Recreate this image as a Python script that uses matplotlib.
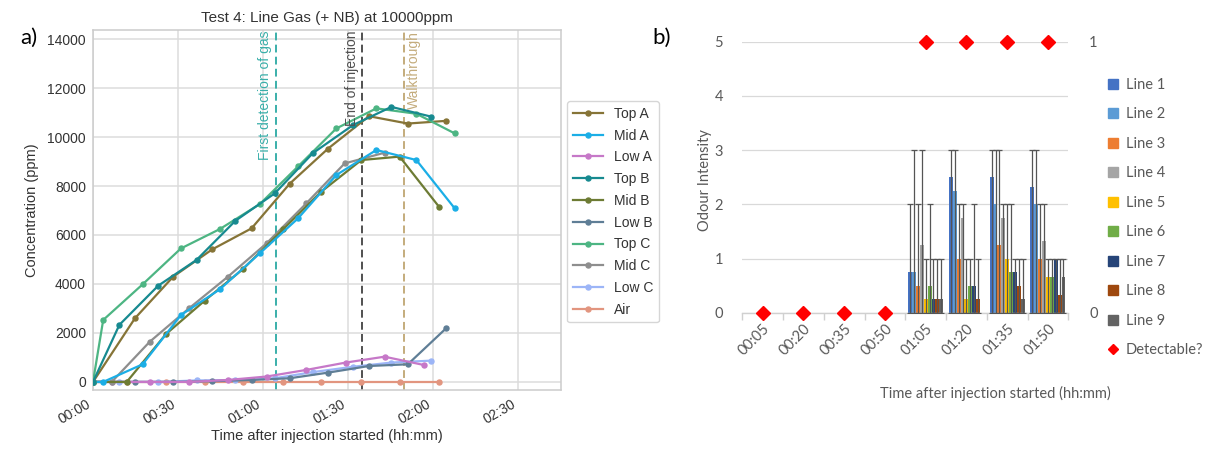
import numpy as np
import matplotlib
matplotlib.use("Agg")
import matplotlib.pyplot as plt
from matplotlib.lines import Line2D
from matplotlib.ticker import FixedLocator

# ---------------- Panel a data (minutes after injection start, ppm) ----------------
top_a_t = [0, 14.8, 28.3, 42, 55.9, 69.4, 82.9, 97.3, 111, 124.5]
top_a_y = [0, 2600, 4300, 5410, 6270, 8100, 9530, 10850, 10550, 10660]
mid_a_t = [0, 3.6, 17.5, 31, 44.7, 58.8, 72.3, 85.8, 99.9, 114, 127.5]
mid_a_y = [0, 0, 720, 2730, 3780, 5250, 6680, 8450, 9470, 9060, 7090]
low_a_t = [0, 6.6, 20, 33.8, 47.6, 61.2, 75.2, 89.1, 102.8, 116.7]
low_a_y = [0, 0, 0, 0, 80, 220, 490, 790, 1030, 690]
top_b_t = [0, 9.3, 23, 36.5, 50.2, 64.1, 77.5, 91.7, 105.2, 119.3]
top_b_y = [0, 2330, 3930, 4980, 6580, 7700, 9340, 10490, 11230, 10830]
mid_b_t = [0, 11.9, 25.7, 39.4, 52.9, 67, 80.5, 94.6, 108.1, 122]
mid_b_y = [0, 0, 1950, 3320, 4610, 6230, 7770, 9060, 9200, 7150]
low_b_t = [0, 14.8, 28.3, 42, 55.9, 69.4, 82.9, 97.3, 111, 124.5]
low_b_y = [0, 0, 0, 30, 80, 150, 380, 650, 720, 2190]
top_c_t = [0, 3.6, 17.5, 31, 44.7, 58.8, 72.3, 85.8, 99.9, 114, 127.5]
top_c_y = [0, 2530, 3985, 5450, 6240, 7260, 8800, 10350, 11170, 10950, 10150]
mid_c_t = [0, 6.6, 20, 33.8, 47.6, 61.2, 75.2, 88.7, 102.8]
mid_c_y = [0, 0, 1640, 3000, 4300, 5660, 7290, 8920, 9360]
low_c_t = [0, 9.3, 23, 36.5, 50.2, 64.1, 77.5, 91.7, 105.2, 119.3]
low_c_y = [0, 0, 0, 60, 80, 150, 400, 620, 790, 870]
air_t = [0, 11.9, 25.7, 39.4, 52.9, 67, 80.5, 94.6, 108.1, 122]
air_y = [0, 0, 0, 0, 0, 0, 0, 0, 0, 0]

series_names = ["Top A", "Mid A", "Low A", "Top B", "Mid B", "Low B",
                "Top C", "Mid C", "Low C", "Air"]
series_colors = ["#867437", "#1BAEE6", "#C678C8", "#178A90", "#6D7B34",
                 "#5F7E96", "#4DB583", "#8E8E8E", "#9CB5F7", "#E2957F"]

event_times = [64.5, 95, 109.5]
event_labels = ["First detection of gas", "End of injection", "Walkthrough"]
event_colors = ["#3AAFAA", "#505050", "#C4AC7C"]

xtick_minutes = [0, 30, 60, 90, 120, 150]
xtick_labels = ["00:00", "00:30", "01:00", "01:30", "02:00", "02:30"]

# ---------------- Panel b data ----------------
categories = ["00:05", "00:20", "00:35", "00:50", "01:05", "01:20", "01:35", "01:50"]
line_names = ["Line 1", "Line 2", "Line 3", "Line 4", "Line 5",
              "Line 6", "Line 7", "Line 8", "Line 9"]
line1 = [0, 0, 0, 0, 0.75, 2.5, 2.5, 2.33]
line2 = [0, 0, 0, 0, 0.75, 2.25, 2.0, 2.0]
line3 = [0, 0, 0, 0, 0.5, 1.0, 1.25, 1.0]
line4 = [0, 0, 0, 0, 1.25, 1.75, 1.75, 1.33]
line5 = [0, 0, 0, 0, 0.25, 0.25, 1.0, 0.67]
line6 = [0, 0, 0, 0, 0.5, 0.5, 0.75, 0.67]
line7 = [0, 0, 0, 0, 0.25, 0.5, 0.75, 1.0]
line8 = [0, 0, 0, 0, 0.25, 0.25, 0.5, 0.33]
line9 = [0, 0, 0, 0, 0.25, 0, 0.25, 0.67]
line1_max = [0, 0, 0, 0, 2, 3, 3, 3]
line2_max = [0, 0, 0, 0, 3, 3, 3, 3]
line3_max = [0, 0, 0, 0, 2, 2, 3, 2]
line4_max = [0, 0, 0, 0, 3, 2, 2, 2]
line5_max = [0, 0, 0, 0, 1, 1, 2, 1]
line6_max = [0, 0, 0, 0, 2, 1, 2, 1]
line7_max = [0, 0, 0, 0, 1, 2, 1, 1]
line8_max = [0, 0, 0, 0, 1, 1, 1, 1]
line9_max = [0, 0, 0, 0, 1, 0, 1, 1]
detectable = [0, 0, 0, 0, 1, 1, 1, 1]
line_colors = ["#4472C4", "#5B9BD5", "#ED7D31", "#A5A5A5", "#FFC000",
               "#70AD47", "#264478", "#9E480E", "#636363"]

W, H = 1209, 457
fig = plt.figure(figsize=(W / 100, H / 100), dpi=100)
fig.patch.set_facecolor("white")

# ================= Panel a =================
arial = "Liberation Sans"
ax = fig.add_axes([93 / W, 1 - 390 / H, 468 / W, 360 / H])
series_t = [top_a_t, mid_a_t, low_a_t, top_b_t, mid_b_t, low_b_t, top_c_t, mid_c_t, low_c_t, air_t]
series_y = [top_a_y, mid_a_y, low_a_y, top_b_y, mid_b_y, low_b_y, top_c_y, mid_c_y, low_c_y, air_y]
draw_order = [9, 8, 5, 2, 7, 4, 1, 0, 6, 3]
handles = {}
for i in draw_order:
    h, = ax.plot(series_t[i], series_y[i], color=series_colors[i], lw=1.6,
                 marker="o", ms=3.6, label=series_names[i], zorder=3)
    handles[i] = h

for t, lab, c in zip(event_times, event_labels, event_colors):
    ax.axvline(t, color=c, ls=(0, (4, 2.2)), lw=1.4, zorder=2)
for t, lab, c, ha, dx in zip(event_times, event_labels, event_colors,
                             ["right", "right", "left"], [-1.3, -1.3, 1.3]):
    ax.text(t + dx, 14330, lab, rotation=90, ha=ha, va="top", color=c,
            fontsize=10, family=arial)

ax.set_xlim(0, 165)
ax.set_ylim(-330, 14370)
ax.set_yticks(np.arange(0, 14001, 2000))
ax.set_xticks(xtick_minutes)
ax.set_xticklabels(xtick_labels, rotation=30, ha="right")
ax.grid(True, color="#dcdcdc", lw=1.1, zorder=0)
ax.set_axisbelow(True)
for s in ax.spines.values():
    s.set_color("#cccccc")
    s.set_linewidth(1.1)
ax.tick_params(length=0, labelsize=10, colors="#333333", pad=5)
for lbl in ax.get_xticklabels() + ax.get_yticklabels():
    lbl.set_family(arial)
ax.set_title("Test 4: Line Gas (+ NB) at 10000ppm", fontsize=11, family=arial,
             color="#333333", pad=6)
ax.set_ylabel("Concentration (ppm)", fontsize=10.5, family=arial, color="#333333", labelpad=6)
ax.set_xlabel("Time after injection started (hh:mm)", fontsize=10.5, family=arial,
              color="#333333", labelpad=2)
leg = ax.legend([handles[i] for i in range(10)], series_names, loc="center left",
                bbox_to_anchor=(0.998, 0.495), frameon=True,
                edgecolor="#cccccc", fancybox=True, handlelength=2.2,
                labelspacing=0.56, prop={"family": arial, "size": 10})
for t in leg.get_texts():
    t.set_color("#333333")

fig.text(20 / W, 1 - 38 / H, "a)", fontsize=16, family="Lato", va="center", ha="left")

# ================= Panel b =================
lato = "Lato"
gray = "#595959"
axb = fig.add_axes([742.3 / W, 1 - 313 / H, 326 / W, 271.3 / H])
x = np.arange(len(categories))
bw = 0.0955
means = [line1, line2, line3, line4, line5, line6, line7, line8, line9]
maxes = [line1_max, line2_max, line3_max, line4_max, line5_max,
         line6_max, line7_max, line8_max, line9_max]
for j in range(9):
    pos = x + (j - 4) * bw
    axb.bar(pos, means[j], width=bw, color=line_colors[j], zorder=2, linewidth=0)
for j in range(9):
    pos = x + (j - 4) * bw
    m = np.array(means[j], dtype=float)
    mx = np.array(maxes[j], dtype=float)
    sel = mx > 0
    axb.errorbar(pos[sel], m[sel], yerr=[m[sel], mx[sel] - m[sel]], fmt="none",
                 ecolor="#555555", elinewidth=0.9, capsize=2.3, capthick=0.9, zorder=3)

axb.set_xlim(-0.5, len(categories) - 0.5)
axb.set_ylim(0, 5)
axb.set_yticks(range(6))
axb.set_xticks(x)
axb.set_xticklabels(categories, rotation=45, ha="right", rotation_mode="anchor")
axb.xaxis.set_minor_locator(FixedLocator(np.arange(-0.5, len(categories), 1.0)))
axb.tick_params(axis="x", which="major", length=0, pad=6, labelsize=10.5, colors=gray)
axb.tick_params(axis="x", which="minor", length=5, color="#d0d0d0", width=1)
axb.tick_params(axis="y", length=0, pad=14, labelsize=10.5, colors=gray)
for lbl in axb.get_xticklabels() + axb.get_yticklabels():
    lbl.set_family(lato)
axb.yaxis.grid(True, color="#d9d9d9", lw=0.9, zorder=0)
axb.set_axisbelow(True)
for k in ["left", "right", "top"]:
    axb.spines[k].set_visible(False)
axb.spines["bottom"].set_color("#d0d0d0")
axb.spines["bottom"].set_linewidth(1)

axr = axb.twinx()
axr.plot(x, detectable, ls="none", marker="D", ms=7, color="#FF0000",
         clip_on=False, zorder=5)
axr.set_ylim(0, 1)
axr.set_yticks([0, 1])
axr.tick_params(axis="y", length=0, pad=15, labelsize=10.5, colors=gray)
for lbl in axr.get_yticklabels():
    lbl.set_family(lato)
for s in axr.spines.values():
    s.set_visible(False)

fig.text(705 / W, 1 - 180 / H, "Odour Intensity", rotation=90, ha="center", va="center",
         fontsize=10.5, family=lato, color=gray)
fig.text(995 / W, 1 - 393 / H, "Time after injection started (hh:mm)", ha="center",
         va="center", fontsize=10.5, family=lato, color=gray)
fig.text(652 / W, 1 - 38 / H, "b)", fontsize=16, family=lato, va="center", ha="left")

leg_handles = [Line2D([], [], ls="none", marker="s", ms=7, color=c) for c in line_colors]
leg_handles.append(Line2D([], [], ls="none", marker="D", ms=5, color="#FF0000"))
legb = fig.legend(leg_handles, line_names + ["Detectable?"], loc="upper left",
                  bbox_to_anchor=(1107 / W, 1 - 78 / H), frameon=False,
                  handlelength=0.8, handletextpad=0.5, labelspacing=1.06,
                  borderaxespad=0, borderpad=0, prop={"family": lato, "size": 10.5})
for t in legb.get_texts():
    t.set_color(gray)

fig.savefig("out.png", dpi=100)
